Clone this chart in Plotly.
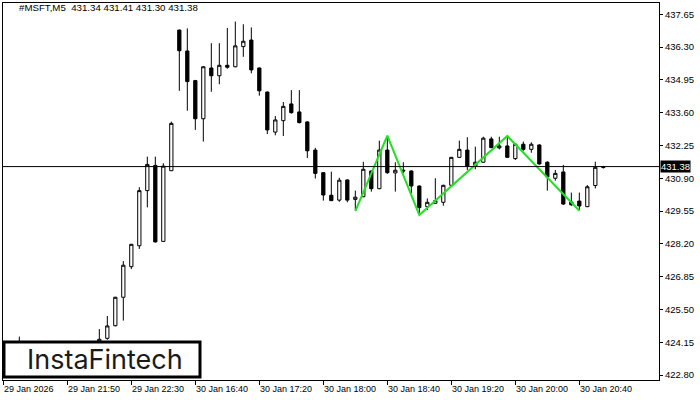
import plotly.graph_objects as go

# ---- data ----
idx = list(range(76))
opens = [423.60, 423.75, 423.95, 424.10, 423.80, 423.55, 423.35, 423.50, 423.70, 423.85,
         423.80, 423.95, 424.15, 424.31, 424.83, 426.00, 427.26, 428.12, 430.39, 431.43,
         428.30, 431.21, 437.00, 436.14, 434.92, 433.35, 435.44, 435.12, 435.55, 435.49,
         436.32, 436.59, 435.44, 434.45, 432.80, 433.27, 433.96, 433.63, 433.22, 432.06,
         431.13, 430.20, 430.00, 430.83, 430.03, 430.14, 431.20, 430.47, 432.06, 431.12,
         431.23, 431.20, 430.58, 429.73, 429.87, 429.91, 430.61, 431.76, 432.06, 431.40,
         431.56, 432.52, 432.15, 432.23, 431.71, 432.30, 432.09, 432.27, 431.56, 430.90,
         431.16, 429.92, 429.96, 429.73, 430.60, 431.34]
highs = [423.85, 424.05, 424.38, 424.20, 423.95, 423.70, 423.60, 423.85, 423.95, 424.05,
         424.00, 424.20, 424.69, 425.23, 426.02, 427.49, 428.20, 430.53, 431.79, 431.79,
         431.52, 433.23, 437.02, 437.07, 434.95, 435.52, 436.46, 436.46, 437.09, 437.35,
         437.24, 437.11, 435.46, 434.47, 433.46, 434.04, 434.53, 434.53, 433.24, 432.15,
         431.15, 431.17, 430.92, 430.85, 430.39, 431.58, 431.22, 432.45, 432.64, 431.56,
         431.56, 431.22, 430.60, 430.07, 430.90, 430.63, 431.78, 432.45, 432.59, 432.20,
         432.61, 432.61, 432.61, 432.63, 432.32, 432.41, 432.38, 432.30, 431.60, 431.24,
         431.45, 430.31, 430.31, 430.62, 431.58, 431.41]
lows = [423.45, 423.60, 423.80, 423.70, 423.40, 423.20, 423.10, 423.40, 423.55, 423.65,
        423.60, 423.85, 424.05, 424.25, 424.80, 425.04, 427.16, 427.99, 429.70, 428.25,
        428.28, 431.20, 434.50, 433.68, 432.89, 432.41, 434.46, 434.77, 435.41, 435.47,
        435.90, 435.22, 434.30, 432.72, 432.67, 432.64, 433.56, 433.16, 431.73, 430.89,
        429.98, 429.96, 429.93, 429.91, 429.59, 430.12, 430.35, 430.45, 431.08, 430.35,
        431.10, 430.28, 429.46, 429.59, 429.86, 429.77, 430.60, 431.74, 431.24, 431.27,
        431.54, 432.14, 432.09, 431.74, 431.65, 432.03, 431.95, 431.45, 430.39, 430.80,
        429.80, 429.76, 429.59, 429.71, 430.48, 431.30]
closes = [423.75, 423.95, 424.10, 423.80, 423.55, 423.35, 423.50, 423.70, 423.85, 423.80,
          423.95, 424.15, 424.27, 424.82, 426.00, 427.32, 428.18, 430.39, 431.47, 428.28,
          431.40, 433.16, 436.15, 434.88, 433.35, 435.49, 435.12, 435.55, 435.47, 436.35,
          436.54, 435.36, 434.50, 432.89, 433.30, 433.86, 433.60, 433.19, 432.03, 431.10,
          430.21, 429.98, 430.82, 430.00, 430.12, 431.27, 430.47, 432.06, 431.13, 431.23,
          431.20, 430.58, 429.69, 429.91, 429.98, 430.61, 431.76, 432.09, 431.40, 431.56,
          432.55, 432.16, 432.23, 431.76, 432.30, 432.09, 432.30, 431.49, 430.96, 431.10,
          429.84, 429.81, 429.76, 430.55, 431.35, 431.38]

x_tick_idx = [0, 8, 16, 24, 32, 40, 48, 56, 64, 72]
x_tick_labels = ["29 Jan 2026", "29 Jan 21:50", "29 Jan 22:30", "30 Jan 16:40",
                 "30 Jan 17:20", "30 Jan 18:00", "30 Jan 18:40", "30 Jan 19:20",
                 "30 Jan 20:00", "30 Jan 20:40"]
y_ticks = [437.65, 436.30, 434.95, 433.60, 432.25, 430.90, 429.55,
           428.20, 426.85, 425.50, 424.15, 422.80]

pattern_idx = [44, 48, 52, 63, 72]
pattern_price = [429.55, 432.65, 429.39, 432.64, 429.56]

header_text = "#MSFT,M5  431.34 431.41 431.30 431.38"
last_price = 431.38
logo_text = "InstaFintech"

FONT = "Liberation Sans, Arial, sans-serif"

fig = go.Figure()

fig.add_trace(go.Candlestick(
    x=idx, open=opens, high=highs, low=lows, close=closes,
    increasing=dict(line=dict(color="black", width=1), fillcolor="white"),
    decreasing=dict(line=dict(color="black", width=1), fillcolor="black"),
    whiskerwidth=0, hoverinfo="skip", showlegend=False,
))

fig.add_trace(go.Scatter(
    x=pattern_idx, y=pattern_price, mode="lines",
    line=dict(color="#22e022", width=2), hoverinfo="skip", showlegend=False,
))

# current price line
fig.add_shape(type="line", xref="paper", x0=0, x1=1, yref="y",
              y0=last_price, y1=last_price, line=dict(color="black", width=1),
              layer="above")

# logo box
fig.add_shape(type="rect", xref="paper", yref="paper",
              x0=0.0015, x1=0.3003, y0=0.008, y1=0.1008,
              line=dict(color="black", width=3), fillcolor="white", layer="above")

annotations = []
annotations.append(dict(
    text=logo_text, xref="paper", yref="paper", x=0.155, y=0.054,
    xanchor="center", yanchor="middle", showarrow=False,
    font=dict(family="Inter, Noto Sans, sans-serif", size=27, color="#1a1a1a"),
))
annotations.append(dict(
    text=header_text, xref="paper", yref="paper", x=0.021, y=0.987,
    xanchor="left", yanchor="middle", showarrow=False,
    font=dict(family=FONT, size=9.7, color="black"),
))
annotations.append(dict(
    text=f"{last_price:.2f}", xref="paper", yref="y", x=1.0, y=last_price,
    xanchor="left", yanchor="middle", showarrow=False, bgcolor="black",
    borderpad=0, xshift=1,
    font=dict(family=FONT, size=9.5, color="white"),
))
for xi, lab in zip(x_tick_idx, x_tick_labels):
    annotations.append(dict(
        text=lab, xref="x", yref="paper", x=xi, y=0, xanchor="left",
        yanchor="top", yshift=-2, xshift=-1, showarrow=False,
        font=dict(family=FONT, size=9, color="black"),
    ))

fig.update_layout(
    width=700, height=400,
    margin=dict(l=3, r=41, t=3, b=20),
    paper_bgcolor="white", plot_bgcolor="white",
    boxgap=0.42,
    annotations=annotations,
    xaxis=dict(
        range=[-0.04, 81.96], rangeslider=dict(visible=False),
        showgrid=False, zeroline=False,
        tickvals=x_tick_idx, ticktext=["" for _ in x_tick_idx],
        ticks="outside", ticklen=4, tickcolor="black",
        showline=True, linecolor="black", linewidth=1, mirror=True,
    ),
    yaxis=dict(
        range=[422.594, 438.115], side="right",
        showgrid=False, zeroline=False,
        tickvals=y_ticks, ticktext=[f"{v:.2f}" for v in y_ticks],
        ticks="outside", ticklen=3, tickcolor="black",
        tickfont=dict(family=FONT, size=9.5, color="black"),
        showline=True, linecolor="black", linewidth=1, mirror=True,
    ),
)

fig.write_html(
    "out.html",
    config={"displayModeBar": False},
    post_script="document.body.style.margin='0';document.body.style.overflow='hidden';",
)
